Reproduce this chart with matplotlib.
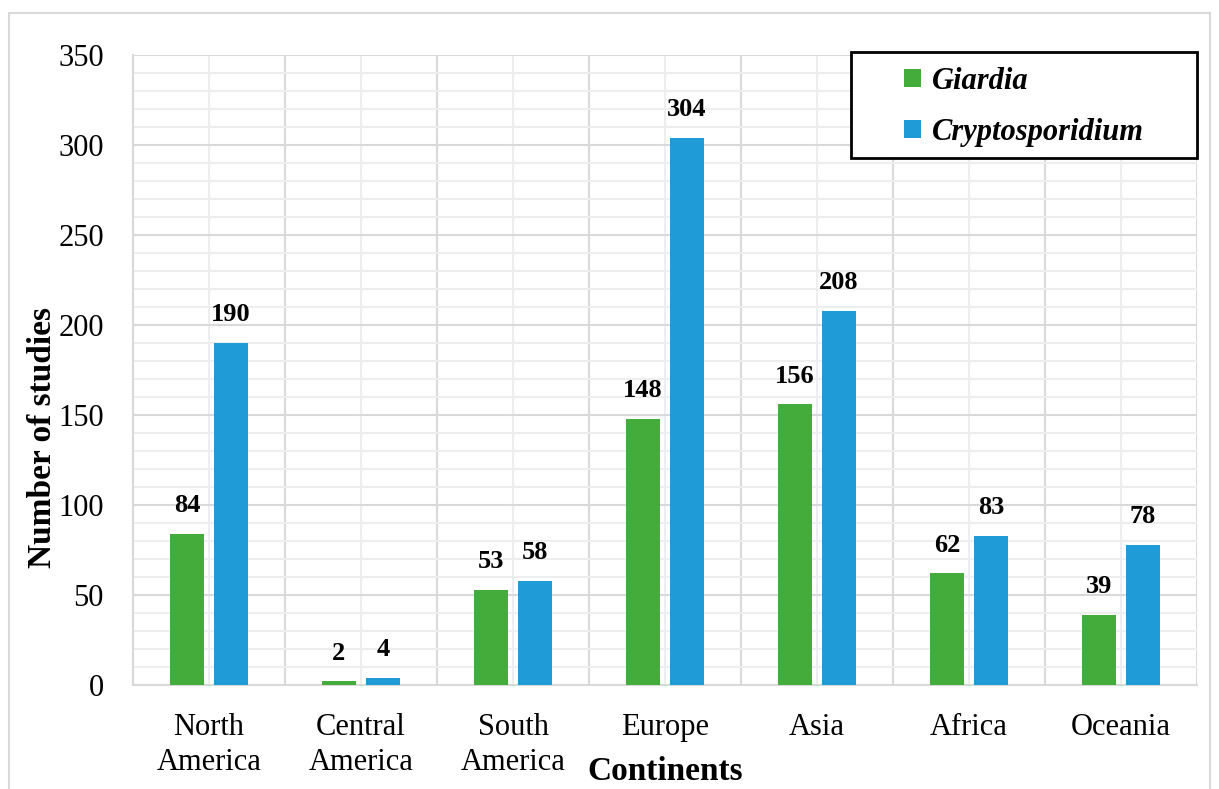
import matplotlib.pyplot as plt
import numpy as np
from matplotlib.patches import Rectangle

continents = ['North\nAmerica', 'Central\nAmerica', 'South\nAmerica', 'Europe',
              'Asia', 'Africa', 'Oceania']
giardia = [84, 2, 53, 148, 156, 62, 39]
crypto = [190, 4, 58, 304, 208, 83, 78]
y_ticks = [0, 50, 100, 150, 200, 250, 300, 350]

GREEN = '#43ac3b'
BLUE = '#1f9bd7'
W, H = 1219, 789


def main():
    plt.rcParams['font.family'] = ['Liberation Serif', 'DejaVu Serif']

    fig = plt.figure(figsize=(W / 100, H / 100), dpi=100)
    ax = fig.add_axes([133 / W, 1 - 685 / H, 1064 / W, 630 / H])

    x = np.arange(len(continents))
    w = 0.224
    off = 0.145
    b1 = ax.bar(x - off, giardia, w, color=GREEN, label='Giardia', zorder=3)
    b2 = ax.bar(x + off, crypto, w, color=BLUE, label='Cryptosporidium', zorder=3)

    for bars, vals in ((b1, giardia), (b2, crypto)):
        for rect, v in zip(bars, vals):
            ax.annotate(str(v), (rect.get_x() + rect.get_width() / 2, rect.get_height()),
                        xytext=(0, 12), textcoords='offset points',
                        ha='center', va='bottom', fontsize=19, fontweight='bold')

    ax.set_xlim(-0.5, len(continents) - 0.5)
    ax.set_ylim(0, 350)
    ax.set_yticks(y_ticks)
    ax.set_yticks(np.arange(0, 351, 10), minor=True)
    ax.set_xticks(x)
    ax.set_xticklabels(continents, fontsize=22, linespacing=1.3)
    ax.set_xticks(np.arange(-0.5, len(continents), 1), minor=True)
    ax.tick_params(axis='both', which='both', length=0)
    ax.tick_params(axis='y', labelsize=22, pad=21)
    ax.tick_params(axis='x', pad=20)

    ax.set_axisbelow(True)
    ax.grid(axis='y', which='major', color='#d9d9d9', lw=1.5)
    ax.grid(axis='y', which='minor', color='#eeeeee', lw=1.5)
    ax.grid(axis='x', which='minor', color='#d9d9d9', lw=1.5)
    ax.grid(axis='x', which='major', color='#eeeeee', lw=1.5)
    for s in ('top', 'right'):
        ax.spines[s].set_visible(False)
    for s in ('left', 'bottom'):
        ax.spines[s].set_color('#d9d9d9')
        ax.spines[s].set_linewidth(1.5)

    fig.text(665 / W, 1 - 772 / H, 'Continents', ha='center', va='center',
             fontsize=24, fontweight='bold')
    fig.text(43 / W, 1 - 438 / H, 'Number of studies', rotation=90,
             ha='center', va='center', fontsize=24, fontweight='bold')

    # legend entries without frame, frame drawn as a separate box
    leg = fig.legend(handles=[b1, b2], loc='center',
                     bbox_to_anchor=(1024 / W, 1 - 107 / H),
                     prop={'size': 22, 'style': 'italic', 'weight': 'bold'},
                     frameon=False, handlelength=0.55, handleheight=0.55,
                     labelspacing=0.72, handletextpad=0.35, borderpad=0)
    leg.set_zorder(6)
    fig.patches.append(Rectangle((851 / W, 1 - 158 / H), 346 / W, 106 / H,
                                 transform=fig.transFigure, facecolor='white',
                                 edgecolor='black', lw=2, zorder=5))

    fig.patches.append(Rectangle((9 / W, -0.02), 1201 / W, 1.02 - 13 / H,
                                 transform=fig.transFigure, fill=False,
                                 edgecolor='#d9d9d9', lw=1.5))

    fig.savefig('out.png', dpi=100)


if __name__ == "__main__":
    main()
